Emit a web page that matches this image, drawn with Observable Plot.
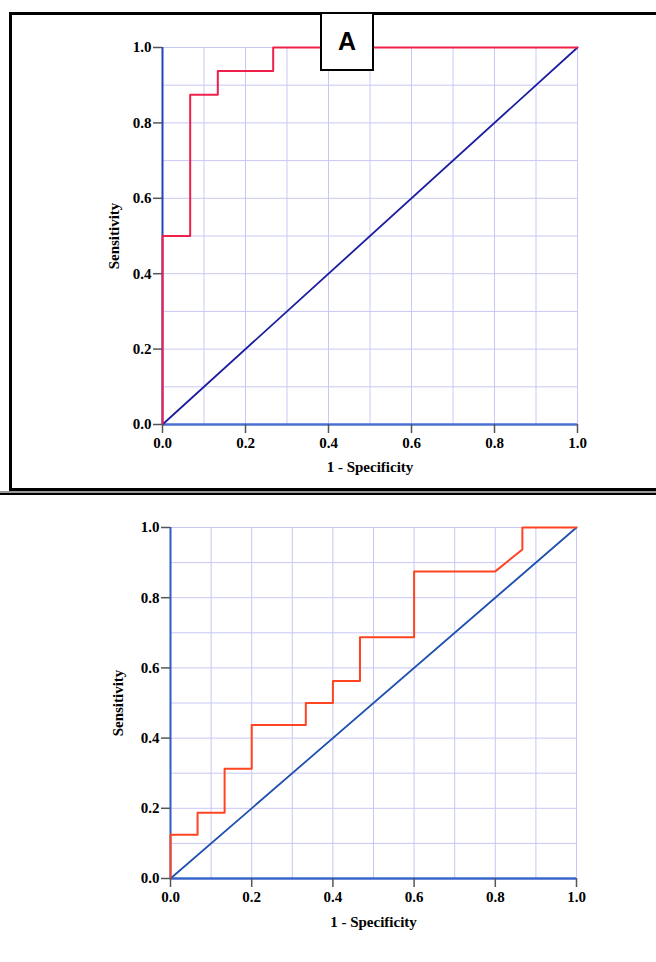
<!DOCTYPE html>
<html>
<head>
<meta charset="utf-8">
<script src="https://cdn.jsdelivr.net/npm/d3@7"></script>
<script src="https://cdn.jsdelivr.net/npm/@observablehq/plot@0.6"></script>
<style>
  html, body { margin: 0; padding: 0; background: #fff; }
  #page { position: relative; width: 656px; height: 962px; overflow: hidden; background: #fff; }
  #boxA { position: absolute; left: 9px; top: 12px; width: 700px; height: 479px; box-sizing: border-box;
          border: 3px solid #000; border-right: none; }
  #line2 { position: absolute; left: 0; top: 491px; width: 656px; height: 1.5px; background: #999; }
  #line3 { position: absolute; left: 0; top: 492.5px; width: 656px; height: 2.5px; background: #000; }
  #labelA { position: absolute; left: 320px; top: 12px; width: 54px; height: 59px; box-sizing: border-box;
            border: 2px solid #000; background: #fff; font-family: "Liberation Sans", Arial, sans-serif;
            font-weight: bold; font-size: 25px; display: flex; align-items: center; justify-content: center; z-index: 3; }
  #p1 { position: absolute; left: 0; top: 0; z-index: 1; }
  #p2 { position: absolute; left: 0; top: 500px; z-index: 1; }
</style>
</head>
<body>
<div id="page">
  <div id="boxA"></div>
  <div id="line2"></div>
  <div id="line3"></div>
  <div id="p1"></div>
  <div id="p2"></div>
  <div id="labelA">A</div>
</div>
<script>
// ---- data ----
const fprA = [0, 0, 0.0667, 0.0667, 0.1333, 0.1333, 0.2667, 0.2667, 1];
const tprA = [0, 0.5, 0.5, 0.875, 0.875, 0.9375, 0.9375, 1, 1];

const fprB = [0, 0, 0.0667, 0.0667, 0.1333, 0.1333, 0.2, 0.2, 0.3333, 0.3333, 0.4, 0.4, 0.4667, 0.4667, 0.6, 0.6, 0.8, 0.8667, 0.8667, 1];
const tprB = [0, 0.125, 0.125, 0.1875, 0.1875, 0.3125, 0.3125, 0.4375, 0.4375, 0.5, 0.5, 0.5625, 0.5625, 0.6875, 0.6875, 0.875, 0.875, 0.9375, 1, 1];

const refLine = [0, 1];
const gridTicks = [0, 0.1, 0.2, 0.3, 0.4, 0.5, 0.6, 0.7, 0.8, 0.9, 1.0];
const axisTicks = [0, 0.2, 0.4, 0.6, 0.8, 1.0];
const xLabel = "1 - Specificity";
const yLabel = "Sensitivity";

const fontFam = "'Liberation Serif', 'Times New Roman', serif";

function rocPlot({fpr, tpr, height, margins, curveColor, diagColor, leftAxisColor, bottomAxisColor, yLabelDx, xLabelDy}) {
  const pts = fpr.map((f, i) => ({x: f, y: tpr[i]}));
  const diag = refLine.map(v => ({x: v, y: v}));
  return Plot.plot({
    width: 656,
    height,
    marginLeft: margins[0], marginRight: margins[1], marginTop: margins[2], marginBottom: margins[3],
    x: {domain: [0, 1]},
    y: {domain: [0, 1]},
    style: {fontFamily: fontFam, background: "transparent", overflow: "visible"},
    marks: [
      Plot.gridX(gridTicks, {stroke: "#c8c8f4", strokeOpacity: 1, strokeWidth: 1}),
      Plot.gridY(gridTicks, {stroke: "#c8c8f4", strokeOpacity: 1, strokeWidth: 1}),
      Plot.ruleY([0], {stroke: bottomAxisColor, strokeWidth: 2.5}),
      Plot.ruleX([0], {stroke: leftAxisColor, strokeWidth: 2}),
      Plot.line(diag, {x: "x", y: "y", stroke: diagColor, strokeWidth: 1.8}),
      Plot.line(pts, {x: "x", y: "y", stroke: curveColor, strokeWidth: 2}),
      Plot.axisX(axisTicks, {tickSize: 9, tickPadding: 4, stroke: "#555", strokeWidth: 1.5, fill: "#000",
        fontSize: 15, fontWeight: "bold", tickFormat: d3.format(".1f"), label: null}),
      Plot.axisY(axisTicks, {tickSize: 9, tickPadding: 2, stroke: "#555", strokeWidth: 1.5, fill: "#000",
        fontSize: 15, fontWeight: "bold", tickFormat: d3.format(".1f"), label: null}),
      Plot.text([xLabel], {frameAnchor: "bottom", lineAnchor: "middle", textAnchor: "middle", dy: xLabelDy,
        text: d => d, fontSize: 15, fontWeight: "bold", fill: "#000"}),
      Plot.text([yLabel], {frameAnchor: "left", lineAnchor: "middle", textAnchor: "middle", dx: yLabelDx, rotate: -90,
        text: d => d, fontSize: 15, fontWeight: "bold", fill: "#000"})
    ]
  });
}

document.getElementById("p1").appendChild(rocPlot({
  fpr: fprA, tpr: tprA, height: 490,
  margins: [162, 79, 47, 66],
  curveColor: "#f0204c", diagColor: "#1c1ca0",
  leftAxisColor: "#2244b8", bottomAxisColor: "#4a70d2",
  yLabelDx: -48, xLabelDy: 43
}));

document.getElementById("p2").appendChild(rocPlot({
  fpr: fprB, tpr: tprB, height: 462,
  margins: [170, 80, 27, 84],
  curveColor: "#ff4422", diagColor: "#2050b0",
  leftAxisColor: "#2f5cc4", bottomAxisColor: "#3a66c8",
  yLabelDx: -52, xLabelDy: 44
}));
</script>
</body>
</html>
